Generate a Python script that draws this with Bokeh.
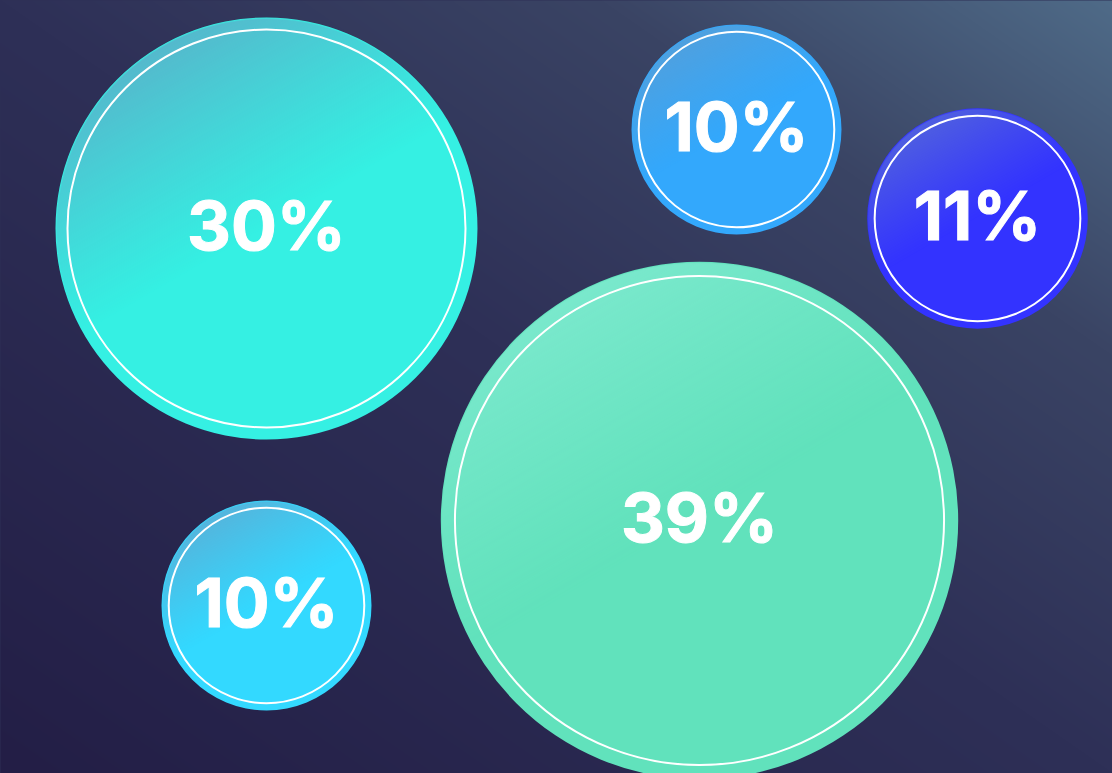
import numpy as np
from bokeh.plotting import figure
from bokeh.models import Range1d, ColumnDataSource
from bokeh.core.properties import value
from bokeh.embed import file_html
from bokeh.resources import INLINE

# ---- data ----
values = [30, 10, 11, 39, 10]
labels = [f"{v}%" for v in values]
# packed-bubble layout centres (data units, y up)
layout_x = [266, 736, 977, 699, 266]
layout_y = [545, 644, 555, 253, 168]

# ---- styles ----
base_colors = ["#35f0e3", "#33a8fc", "#3333ff", "#61e2bc", "#33d9ff"]
tint_colors = ["#55b8cc", "#50a0de", "#5060e0", "#7ae8cc", "#55b4dc"]

W, H = 1112, 773


def hex2rgb(h):
    h = h.lstrip("#")
    return np.array([int(h[i:i + 2], 16) for i in (0, 2, 4)], dtype=float)


def radius_of(v):
    return 52 + 5.3 * v


radii = [radius_of(v) for v in values]
inner = [r * 0.955 - 2.5 for r in radii]

p = figure(width=W, height=H, x_range=Range1d(0, W), y_range=Range1d(0, H),
           output_backend="svg", toolbar_location=None, min_border=0,
           x_axis_location=None, y_axis_location=None)
p.grid.visible = False
p.outline_line_color = None
p.border_fill_color = "#2e3057"
p.background_fill_color = "#2e3057"

# ---- background gradient ----
PAD = 6
GW, GH = W + 2 * PAD, H + 2 * PAD
stops_t = [0.0, 0.5, 0.77, 1.0]
stops_c = [hex2rgb(c) for c in ["#231e46", "#2e3057", "#3a4464", "#4f6b88"]]
xx = (np.arange(GW) - PAD + 0.5) / W
yy = (np.arange(GH) - PAD + 0.5) / H
T = np.clip((xx[None, :] + yy[:, None]) / 2.0, 0, 1)
bg = np.empty((GH, GW), dtype=np.uint32)
bv = bg.view(dtype=np.uint8).reshape((GH, GW, 4))
for k in range(3):
    bv[:, :, k] = np.interp(T, stops_t, [c[k] for c in stops_c]).astype(np.uint8)
bv[:, :, 3] = 255
p.image_rgba(image=[bg], x=-PAD, y=-PAD, dw=GW, dh=GH)

# ---- bubbles ----
src = ColumnDataSource(dict(x=layout_x, y=layout_y, r=radii, ri=inner,
                            color=base_colors, label=labels))
p.circle(x="x", y="y", radius="r", source=src, fill_color="color",
         line_color=None)

# gradient tint overlay (top-left lighter)
dx, dy = 0.5, 0.866
for cx, cy, r, tc in zip(layout_x, layout_y, radii, tint_colors):
    n = int(np.ceil(2 * r))
    px = cx - r + np.arange(n) + 0.5
    py = cy - r + np.arange(n) + 0.5
    X, Y = np.meshgrid(px - cx, py - cy)
    D = np.sqrt(X ** 2 + Y ** 2)
    cover = np.clip(r - 0.5 - D, 0, 1)
    t = (X * dx - Y * dy) / r  # top-down direction
    w = np.clip(-t, 0, 1)
    w = w ** 1.1
    img = np.empty((n, n), dtype=np.uint32)
    v = img.view(dtype=np.uint8).reshape((n, n, 4))
    rgb = hex2rgb(tc)
    for k in range(3):
        v[:, :, k] = int(rgb[k])
    v[:, :, 3] = (w * cover * 255).astype(np.uint8)
    p.image_rgba(image=[img], x=cx - r, y=cy - r, dw=n, dh=n)

# white inner ring
p.circle(x="x", y="y", radius="ri", source=src, fill_color=None,
         line_color="white", line_width=2)

# labels
p.text(x="x", y="y", text="label", source=src, text_color="white",
       text_font=value("Inter"), text_font_style="bold",
       text_font_size=value("68px"), text_align="center",
       text_baseline="middle", y_offset=-4,
       text_outline_color="white")

html = file_html(p, INLINE)
html = html.replace(
    "<head>",
    "<head><style>html,body{margin:0;padding:0;overflow:hidden;background:#2e3057;}</style>",
    1)
open("out.html", "w").write(html)
